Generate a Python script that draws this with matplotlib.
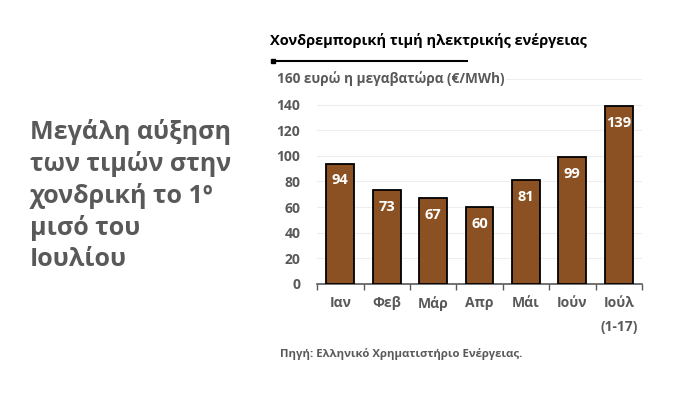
import matplotlib.pyplot as plt
import numpy as np
from matplotlib.lines import Line2D
from matplotlib.transforms import blended_transform_factory

months = ["Ιαν", "Φεβ", "Μάρ", "Απρ", "Μάι", "Ιούν", "Ιούλ\n(1-17)"]
prices = [94, 73, 67, 60, 81, 99, 139]
yticks = [0, 20, 40, 60, 80, 100, 120, 140, 160]

BAR_COLOR = "#8B5123"
GRAY = "#595959"

plt.rcParams["font.family"] = ["Open Sans", "DejaVu Sans"]

fig = plt.figure(figsize=(7, 3.93), dpi=100)
ax = fig.add_axes([0.453, 0.2774, 0.464, 0.5216])

xs = np.arange(len(months))
ax.bar(xs, prices, width=0.6, color=BAR_COLOR, edgecolor="black", linewidth=1.3, zorder=3)
for x, v in zip(xs, prices):
    ax.annotate(str(v), (x, v), xytext=(0, -12), textcoords="offset points",
                ha="center", va="center", color="white", fontsize=10.5,
                fontweight="bold", zorder=4)

ax.set_xlim(-0.5, len(months) - 0.5)
ax.set_ylim(0, 160)
ax.set_yticks(yticks)
# the 160 label is drawn together with the unit text below
ax.set_yticklabels([str(t) for t in yticks[:-1]] + [""])
for lbl in ax.get_yticklabels():
    lbl.set_fontweight("bold")
    lbl.set_color(GRAY)
    lbl.set_fontsize(10)
ax.tick_params(axis="y", length=0, pad=12)
ax.grid(axis="y", color="#eeeeee", linewidth=0.8, zorder=0)

# x axis: category labels with small boundary ticks
ax.set_xticks(xs)
ax.set_xticklabels(months, fontsize=10, fontweight="bold", color=GRAY)
ax.tick_params(axis="x", length=0, pad=9)
ax.set_xticks(np.arange(len(months) + 1) - 0.5, minor=True)
ax.tick_params(axis="x", which="minor", length=4, color=GRAY, width=1)
for lbl in ax.get_xticklabels():
    lbl.set_linespacing(1.9)
    lbl.set_va("top")

for s in ["top", "right", "left"]:
    ax.spines[s].set_visible(False)
ax.spines["bottom"].set_color(GRAY)
ax.spines["bottom"].set_linewidth(1.2)

# 160 + unit label
trans = blended_transform_factory(fig.transFigure, ax.transData)
ax.text(277 / 700, 160, "160 ευρώ η μεγαβατώρα (€/MWh)", transform=trans,
        ha="left", va="center", fontsize=9.8, fontweight="bold", color=GRAY,
        bbox=dict(facecolor="white", edgecolor="none", pad=1), zorder=5)

# title with underline
fig.text(270 / 700, 1 - 40 / 393, "Χονδρεμπορική τιμή ηλεκτρικής ενέργειας",
         fontsize=10.5, fontweight="bold", color="black", va="center", ha="left")
fig.add_artist(Line2D([273 / 700, 467 / 700], [1 - 61 / 393, 1 - 61 / 393],
                      color="black", linewidth=1.5, transform=fig.transFigure))
fig.add_artist(Line2D([273 / 700], [1 - 61 / 393], marker="s", markersize=3.5,
                      color="black", transform=fig.transFigure))

# source
fig.text(280 / 700, 1 - 354 / 393, "Πηγή: Ελληνικό Χρηματιστήριο Ενέργειας.",
         fontsize=8.2, fontweight="bold", color=GRAY, va="center", ha="left")

# left headline
fig.text(30 / 700, 1 - 119 / 393,
         "Μεγάλη αύξηση\nτων τιμών στην\nχονδρική το 1º\nμισό του\nΙουλίου",
         fontsize=18, fontweight="bold", color=GRAY, va="top", ha="left",
         linespacing=1.3)

fig.savefig("out.png", dpi=100)
